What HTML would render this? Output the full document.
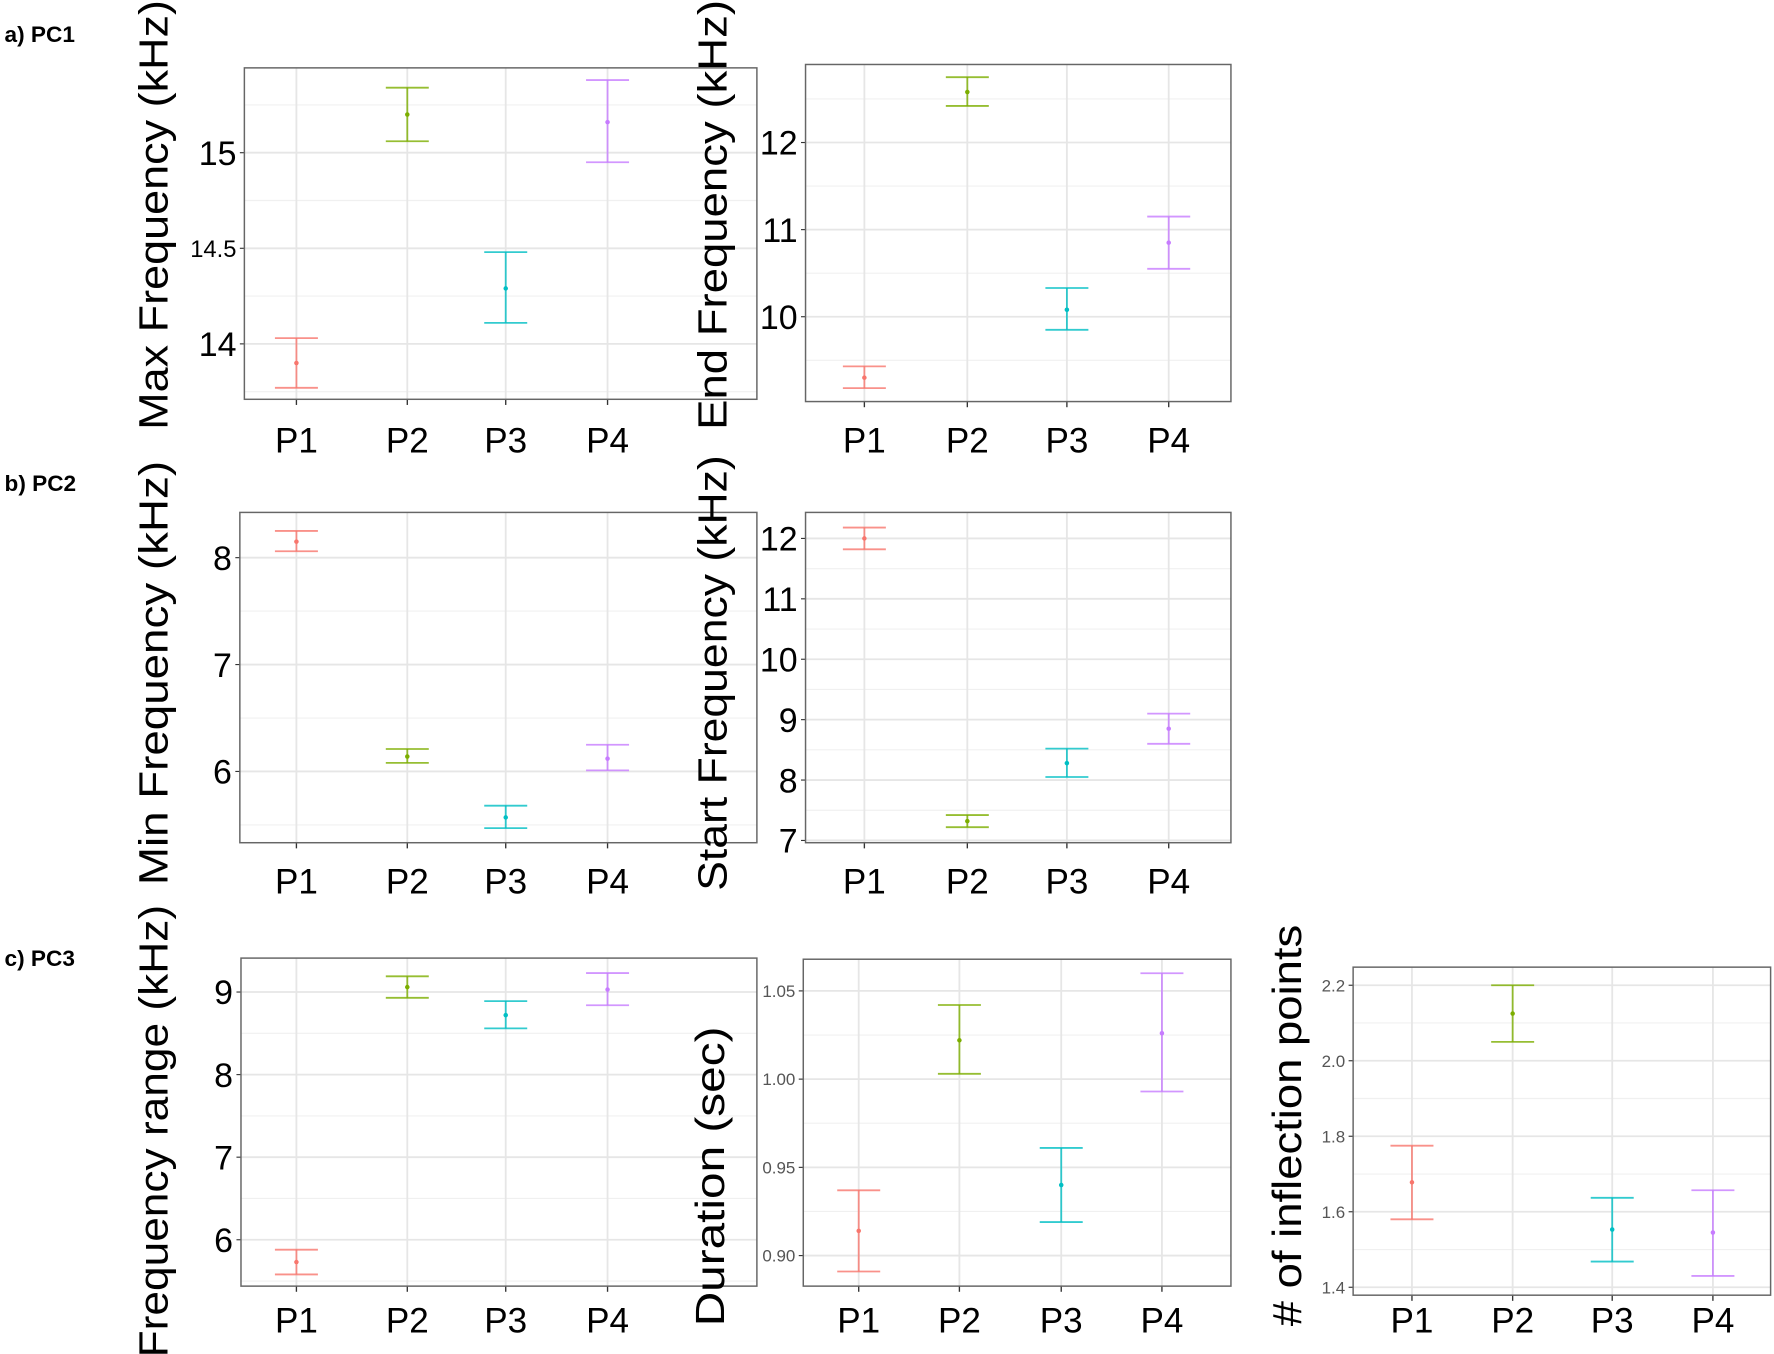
<!DOCTYPE html>
<html><head><meta charset="utf-8"><style>
html,body{margin:0;padding:0;background:#fff;}
svg{display:block;}
text{font-family:"Liberation Sans",Arial,sans-serif;}
</style></head><body>
<svg id="s" width="1774" height="1354" viewBox="0 0 1568 1197" preserveAspectRatio="none" xmlns="http://www.w3.org/2000/svg"></svg>
<script>
var C=["#F8766D","#7CAE00","#00BFC4","#C77CFF"];
var P=[
{x0:216,x1:669,y0:60,y1:353,xs:[262,360,447,537],t:[[15,135],[14,304]],ticks:[[15,"15",30],[14.5,"14.5",21],[14,"14",30]],minor:[13.75,14.25,14.75,15.25],
 d:[[13.9,13.77,14.03],[15.2,15.06,15.34],[14.29,14.11,14.48],[15.16,14.95,15.38]],title:"Max Frequency (kHz)",tx:148,ty:190,tl:380,lab:400,big:1},
{x0:712,x1:1088,y0:57,y1:355,xs:[764,855,943,1033],t:[[12,126],[10,280]],ticks:[[12,"12",30],[11,"11",30],[10,"10",30]],minor:[9.5,10.5,11.5,12.5],
 d:[[9.3,9.18,9.43],[12.58,12.42,12.75],[10.08,9.85,10.33],[10.85,10.55,11.15]],title:"End Frequency (kHz)",tx:642,ty:190,tl:380,lab:400,big:1},
{x0:212,x1:669,y0:453,y1:745,xs:[262,360,447,537],t:[[8,493],[6,682]],ticks:[[8,"8",30],[7,"7",30],[6,"6",30]],minor:[5.5,6.5,7.5],
 d:[[8.15,8.06,8.25],[6.14,6.08,6.21],[5.57,5.47,5.68],[6.12,6.01,6.25]],title:"Min Frequency (kHz)",tx:148,ty:595,tl:375,lab:790,big:1},
{x0:712,x1:1088,y0:453,y1:745,xs:[764,855,943,1033],t:[[12,476],[7,743]],ticks:[[12,"12",30],[11,"11",30],[10,"10",30],[9,"9",30],[8,"8",30],[7,"7",30]],minor:[7.5,8.5,9.5,10.5,11.5],
 d:[[12.0,11.82,12.18],[7.32,7.22,7.42],[8.28,8.05,8.52],[8.85,8.6,9.1]],title:"Start Frequency (kHz)",tx:642,ty:595,tl:385,lab:790,big:1},
{x0:213,x1:669,y0:847,y1:1137,xs:[262,360,447,537],t:[[9,877],[6,1096]],ticks:[[9,"9",30],[8,"8",30],[7,"7",30],[6,"6",30]],minor:[5.5,6.5,7.5,8.5],
 d:[[5.73,5.58,5.88],[9.06,8.93,9.19],[8.72,8.56,8.89],[9.03,8.84,9.23]],title:"Frequency range (kHz)",tx:148,ty:1000,tl:400,lab:1178,big:1},
{x0:710,x1:1088,y0:848,y1:1137,xs:[759,848,938,1027],t:[[1.05,876],[0.90,1110]],ticks:[[1.05,"1.05",15],[1.00,"1.00",15],[0.95,"0.95",15],[0.90,"0.90",15]],minor:[0.925,0.975,1.025],
 d:[[0.914,0.891,0.937],[1.022,1.003,1.042],[0.94,0.919,0.961],[1.026,0.993,1.06]],title:"Duration (sec)",tx:640,ty:1040,tl:265,lab:1178,big:0},
{x0:1196,x1:1565,y0:855,y1:1145,xs:[1248,1337,1425,1514],t:[[2.2,871],[1.4,1138]],ticks:[[2.2,"2.2",15],[2.0,"2.0",15],[1.8,"1.8",15],[1.6,"1.6",15],[1.4,"1.4",15]],minor:[1.5,1.7,1.9,2.1],
 d:[[1.678,1.58,1.775],[2.125,2.05,2.2],[1.553,1.468,1.637],[1.545,1.43,1.657]],title:"# of inflection points",tx:1150,ty:995,tl:355,lab:1178,big:0}
];
var h='';
P.forEach(function(p){
 var a=(p.t[1][1]-p.t[0][1])/(p.t[1][0]-p.t[0][0]);
 function Y(v){return p.t[0][1]+(v-p.t[0][0])*a;}
 h+='<rect x="'+p.x0+'" y="'+p.y0+'" width="'+(p.x1-p.x0)+'" height="'+(p.y1-p.y0)+'" fill="#fff"/>';
 p.minor.forEach(function(v){h+='<line x1="'+p.x0+'" x2="'+p.x1+'" y1="'+Y(v)+'" y2="'+Y(v)+'" stroke="#f0f0f0" stroke-width="1"/>';});
 p.ticks.forEach(function(t){var y=Y(t[0]);
  h+='<line x1="'+p.x0+'" x2="'+p.x1+'" y1="'+y+'" y2="'+y+'" stroke="#e6e6e6" stroke-width="1.6"/>';
  h+='<line x1="'+(p.x0-4)+'" x2="'+p.x0+'" y1="'+y+'" y2="'+y+'" stroke="#333" stroke-width="1"/>';
  h+='<text x="'+(p.x0-7)+'" y="'+(y+t[2]*0.36)+'" font-size="'+t[2]+'" text-anchor="end" fill="'+(t[2]<20?'#555':'#000')+'">'+t[1]+'</text>';});
 p.xs.forEach(function(x,i){
  h+='<line x1="'+x+'" x2="'+x+'" y1="'+p.y0+'" y2="'+p.y1+'" stroke="#e6e6e6" stroke-width="1.6"/>';
  h+='<line x1="'+x+'" x2="'+x+'" y1="'+p.y1+'" y2="'+(p.y1+5)+'" stroke="#333" stroke-width="1.2"/>';
  h+='<text x="'+x+'" y="'+p.lab+'" font-size="31" text-anchor="middle">P'+(i+1)+'</text>';
  var d=p.d[i],c=C[i];
  h+='<line x1="'+x+'" x2="'+x+'" y1="'+Y(d[1])+'" y2="'+Y(d[2])+'" stroke="'+c+'" stroke-width="1.6" opacity="0.8"/>';
  h+='<line x1="'+(x-19)+'" x2="'+(x+19)+'" y1="'+Y(d[1])+'" y2="'+Y(d[1])+'" stroke="'+c+'" stroke-width="1.6" opacity="0.8"/>';
  h+='<line x1="'+(x-19)+'" x2="'+(x+19)+'" y1="'+Y(d[2])+'" y2="'+Y(d[2])+'" stroke="'+c+'" stroke-width="1.6" opacity="0.8"/>';
  h+='<circle cx="'+x+'" cy="'+Y(d[0])+'" r="2" fill="'+c+'"/>';
 });
 h+='<rect x="'+p.x0+'" y="'+p.y0+'" width="'+(p.x1-p.x0)+'" height="'+(p.y1-p.y0)+'" fill="none" stroke="#666" stroke-width="1.3"/>';
 h+='<text transform="translate('+p.tx+','+p.ty+') rotate(-90)" font-size="36" text-anchor="middle" textLength="'+p.tl+'" lengthAdjust="spacingAndGlyphs">'+p.title.replace('#','&#35;')+'</text>';
});
h+='<text x="4" y="37" font-size="20" font-weight="bold">a) PC1</text>';
h+='<text x="4" y="434" font-size="20" font-weight="bold">b) PC2</text>';
h+='<text x="4" y="854" font-size="20" font-weight="bold">c) PC3</text>';
document.getElementById('s').innerHTML=h;
</script>
</body></html>
